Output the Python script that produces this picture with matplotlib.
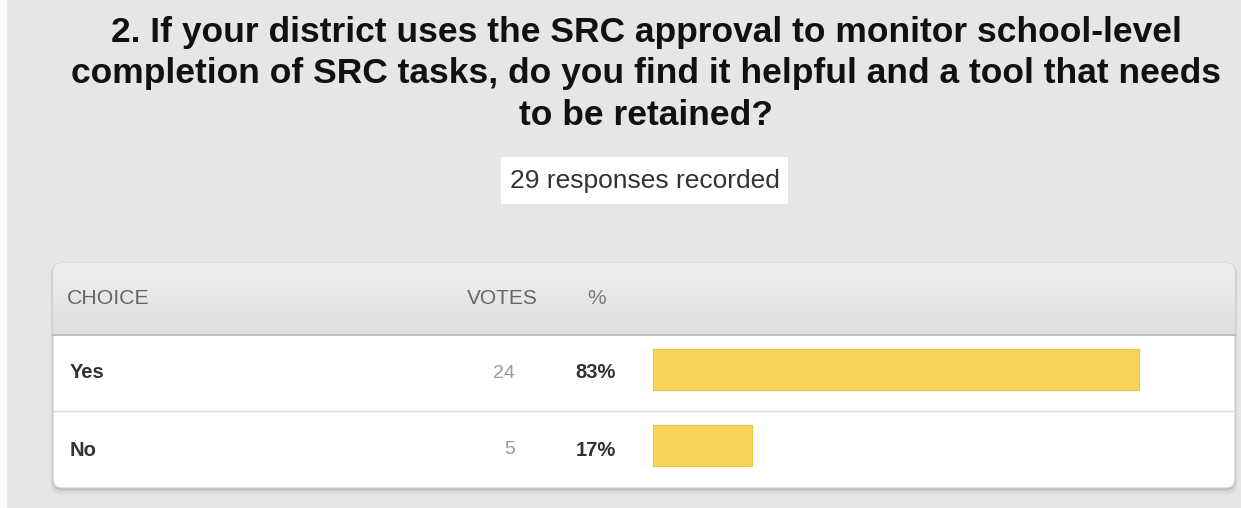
import numpy as np
import matplotlib.pyplot as plt
from matplotlib.colors import LinearSegmentedColormap
from matplotlib.patches import FancyBboxPatch, Rectangle

plt.rcParams['font.family'] = ['Liberation Sans', 'DejaVu Sans']

title_lines = [
    "2. If your district uses the SRC approval to monitor school-level",
    "completion of SRC tasks, do you find it helpful and a tool that needs",
    "to be retained?",
]
responses_text = "29 responses recorded"
headers = ["CHOICE", "VOTES", "%"]
choices = ["Yes", "No"]
votes = [24, 5]
percents = [83, 17]

W, H = 1241, 508
fig = plt.figure(figsize=(W / 100, H / 100), dpi=100, facecolor='#e6e6e6')

# background layer in pixel coordinates (y down)
bg = fig.add_axes([0, 0, 1, 1])
bg.set_xlim(0, W)
bg.set_ylim(H, 0)
bg.axis('off')
bg.add_patch(Rectangle((0, 0), 7, H, color='#fafafa', lw=0))

# title
for i, line in enumerate(title_lines):
    bg.text(646, 42 + i * 41.5, line, ha='center', va='baseline',
            fontsize=25.5, fontweight='bold', color='#111111')

# responses box
bg.add_patch(Rectangle((501, 157), 287, 47, color='white', lw=0))
bg.text(645, 181, responses_text, ha='center', va='center',
        fontsize=19, color='#333333')

# card with soft shadow
cx0, cy0, cw, ch = 53, 263, 1182, 225
for k, a in [(6, 0.02), (4, 0.03), (2, 0.05), (1, 0.07)]:
    bg.add_patch(FancyBboxPatch((cx0 - k / 2, cy0 + 1), cw + k, ch + k,
                                boxstyle='round,pad=0,rounding_size=10',
                                fc='black', ec='none', alpha=a))
card = FancyBboxPatch((cx0, cy0), cw, ch, boxstyle='round,pad=0,rounding_size=9',
                      fc='white', ec='#d0d0d0', lw=0.8)
bg.add_patch(card)

# header gradient
grad = np.linspace(0, 1, 100).reshape(-1, 1)
hdr_cmap = LinearSegmentedColormap.from_list('hdr', ['#f0f0f0', '#dedede'])
im = bg.imshow(grad, cmap=hdr_cmap, extent=(cx0, cx0 + cw, 335, cy0), aspect='auto',
               interpolation='bilinear', zorder=2)
im.set_clip_path(card)
bg.plot([cx0, cx0 + cw], [335, 335], color='#b8b8b8', lw=1.2, zorder=3)
bg.plot([cx0, cx0 + cw], [411, 411], color='#dcdcdc', lw=1.0, zorder=3)

# header labels
bg.text(67, 299, headers[0], ha='left', va='center', fontsize=15.3, color='#666666', zorder=4)
bg.text(538, 299, headers[1], ha='right', va='center', fontsize=15, color='#666666', zorder=4)
bg.text(597, 299, headers[2], ha='center', va='center', fontsize=15, color='#777777', zorder=4)

# rows
row_y = [373, 450]
for y, c, v, p in zip(row_y, choices, votes, percents):
    bg.text(70, y, c, ha='left', va='center', fontsize=14.5, fontweight='bold', color='#333333')
    bg.text(515, y, str(v), ha='right', va='center', fontsize=14, color='#9a9a9a')
    bg.text(616, y, f"{p}%", ha='right', va='center', fontsize=14.5, fontweight='bold', color='#333333')

# bars on a percent scale
ax = fig.add_axes([653 / W, 1 - 488 / H, 585 / W, (488 - 335) / H])
ax.set_xlim(0, 100)
ax.set_ylim(1.55, -0.45)
ax.barh(range(len(choices)), percents, height=0.535, left=0,
        color='#f7d35a', edgecolor='#e9c44a', linewidth=0.8)
ax.axis('off')
ax.patch.set_alpha(0)

fig.savefig('out.png', dpi=100, facecolor=fig.get_facecolor())
